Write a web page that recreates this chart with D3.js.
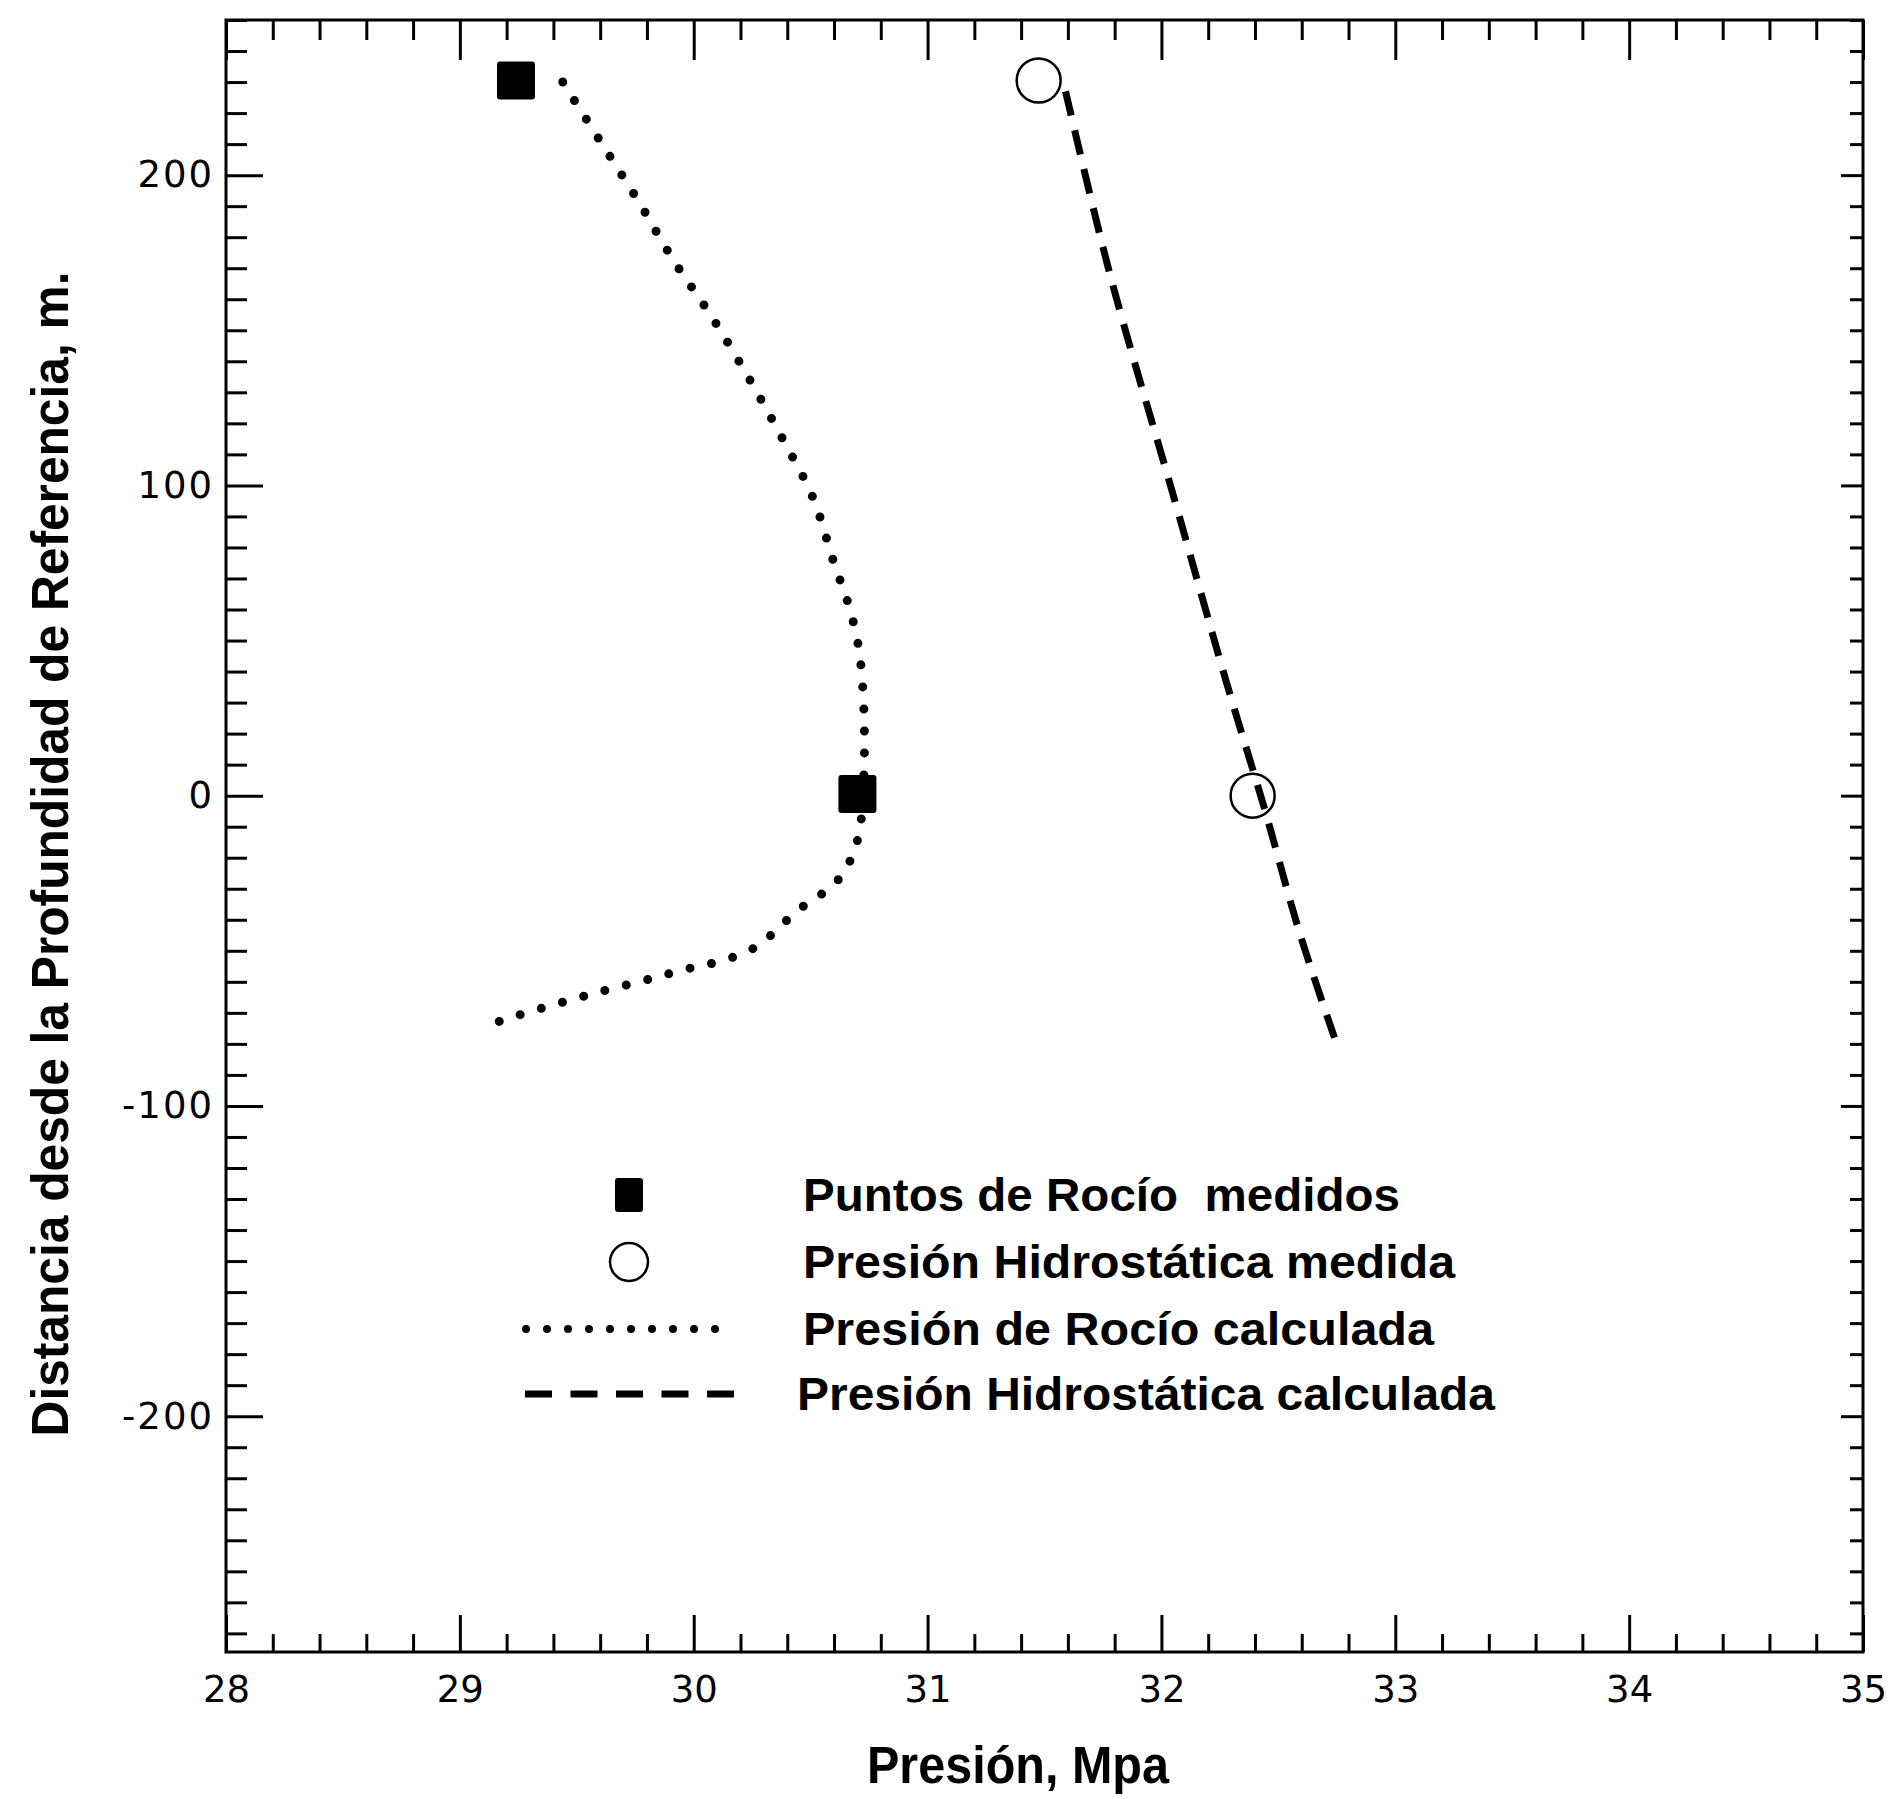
<!DOCTYPE html>
<html><head><meta charset="utf-8">
<script src="https://cdn.jsdelivr.net/npm/d3@7"></script>
<style>
body{margin:0;background:#fff}
svg{display:block}
</style>
</head><body>
<svg id="chart" width="1893" height="1799"></svg>
<script>
// ---------- data ----------
const xTicksMajor = [28, 29, 30, 31, 32, 33, 34, 35];
const xTickLabels = ["28", "29", "30", "31", "32", "33", "34", "35"];
const yTicksMajor = [200, 100, 0, -100, -200];
const yTickLabels = ["200", "100", "0", "-100", "-200"];

// Puntos de Rocío medidos  [presión MPa, distancia m]
const dewMeasured = [[29.24, 230.5], [30.70, 0.5]];
// Presión Hidrostática medida
const hydroMeasured = [[31.475, 230.5], [32.39, 0]];
// Presión de Rocío calculada
const dewCalc = [
  [29.44, 230], [29.60, 211], [29.76, 192], [29.91, 173], [30.08, 154],
  [30.24, 134], [30.38, 115], [30.51, 96], [30.60, 75], [30.66, 62],
  [30.70, 50], [30.72, 38], [30.73, 20], [30.725, 2], [30.71, -11],
  [30.68, -19], [30.63, -26], [30.56, -31], [30.48, -35], [30.40, -40],
  [30.33, -45], [30.26, -49], [30.17, -52], [30.08, -54], [29.99, -55.5],
  [29.89, -57.5], [29.79, -59.5], [29.61, -63], [29.42, -67], [29.24, -71],
  [29.12, -74]
];
// Presión Hidrostática calculada
const hydroCalc = [
  [31.59, 227], [31.78, 168], [32.05, 97], [32.28, 36],
  [32.44, -4], [32.59, -44], [32.74, -78]
];

const legendLabels = [
  "Puntos de Rocío  medidos",
  "Presión Hidrostática medida",
  "Presión de Rocío calculada",
  "Presión Hidrostática calculada"
];
const xTitle = "Presión, Mpa";
const yTitle = "Distancia desde la Profundidad de Referencia, m.";

// ---------- layout ----------
const m = {left: 226, right: 1863, top: 20, bottom: 1652};
const svg = d3.select("#chart");
const x = d3.scaleLinear().domain([28, 35]).range([m.left, m.right]);
const y = d3.scaleLinear().domain([-276, 250]).range([m.bottom, m.top]);

const xMinor = d3.range(28, 35.0001, 0.2).filter(v => Math.abs(v - Math.round(v)) > 1e-6);
const yMinor = d3.range(-270, 251, 10).filter(v => v % 100 !== 0);
const yMajorAll = [-200, -100, 0, 100, 200];

const tickFont = "'DejaVu Sans', sans-serif";
const titleFont = "'Liberation Sans', Arial, sans-serif";

function styleAxis(g) {
  g.select(".domain").remove();
  g.selectAll(".tick line").attr("stroke", "#000").attr("stroke-width", 3);
  g.selectAll(".tick text").attr("fill", "#000").attr("font-family", tickFont).attr("font-size", 37);
}

// bottom axis
svg.append("g").attr("transform", `translate(0,${m.bottom})`)
  .call(d3.axisBottom(x).tickValues(xMinor).tickSize(-18).tickFormat(""))
  .call(styleAxis);
svg.append("g").attr("transform", `translate(0,${m.bottom})`)
  .call(d3.axisBottom(x).tickValues(xTicksMajor).tickSize(-37).tickPadding(24)
    .tickFormat((d, i) => xTickLabels[i]))
  .call(styleAxis);

// top axis
svg.append("g").attr("transform", `translate(0,${m.top})`)
  .call(d3.axisTop(x).tickValues(xMinor).tickSize(-20).tickFormat(""))
  .call(styleAxis);
svg.append("g").attr("transform", `translate(0,${m.top})`)
  .call(d3.axisTop(x).tickValues(xTicksMajor).tickSize(-40).tickFormat(""))
  .call(styleAxis);

// left axis
svg.append("g").attr("transform", `translate(${m.left},0)`)
  .call(d3.axisLeft(y).tickValues(yMinor).tickSize(-21).tickFormat(""))
  .call(styleAxis);
svg.append("g").attr("transform", `translate(${m.left},0)`)
  .call(d3.axisLeft(y).tickValues(yTicksMajor).tickSize(-37).tickPadding(12)
    .tickFormat((d, i) => yTickLabels[i]))
  .call(styleAxis)
  .call(g => g.selectAll(".tick text").attr("letter-spacing", 2));

// right axis
svg.append("g").attr("transform", `translate(${m.right},0)`)
  .call(d3.axisRight(y).tickValues(yMinor).tickSize(-13).tickFormat(""))
  .call(styleAxis);
svg.append("g").attr("transform", `translate(${m.right},0)`)
  .call(d3.axisRight(y).tickValues(yMajorAll).tickSize(-22).tickFormat(""))
  .call(styleAxis);

// frame
svg.append("rect")
  .attr("x", m.left).attr("y", m.top)
  .attr("width", m.right - m.left).attr("height", m.bottom - m.top)
  .attr("fill", "none").attr("stroke", "#000").attr("stroke-width", 3);

// ---------- series ----------
const line = d3.line().x(d => x(d[0])).y(d => y(d[1])).curve(d3.curveCatmullRom.alpha(0.5));

svg.append("path").datum(dewCalc)
  .attr("d", line).attr("fill", "none").attr("stroke", "#000")
  .attr("stroke-width", 9).attr("stroke-linecap", "round")
  .attr("stroke-dasharray", "0 22");

svg.append("path").datum(hydroCalc)
  .attr("d", line).attr("fill", "none").attr("stroke", "#000")
  .attr("stroke-width", 7).attr("stroke-linecap", "butt")
  .attr("stroke-dasharray", "25 15");

const sq = 38;
svg.selectAll("rect.dew").data(dewMeasured).join("rect").attr("class", "dew")
  .attr("x", d => x(d[0]) - sq / 2).attr("y", d => y(d[1]) - sq / 2)
  .attr("width", sq).attr("height", sq).attr("rx", 3).attr("fill", "#000");

svg.selectAll("circle.hyd").data(hydroMeasured).join("circle").attr("class", "hyd")
  .attr("cx", d => x(d[0])).attr("cy", d => y(d[1])).attr("r", 22)
  .attr("fill", "none").attr("stroke", "#000").attr("stroke-width", 2.5);

// ---------- legend ----------
const legRowY = [1195, 1262, 1329, 1394];
const legTextX = 803;
const legTextLen = [597, 652, 631, 698];
const legMarkX = 629;
const lg = svg.append("g");
lg.append("rect").attr("x", legMarkX - 14).attr("y", legRowY[0] - 17)
  .attr("width", 28).attr("height", 34).attr("rx", 3).attr("fill", "#000");
lg.append("circle").attr("cx", legMarkX).attr("cy", legRowY[1]).attr("r", 19)
  .attr("fill", "none").attr("stroke", "#000").attr("stroke-width", 2.5);
lg.append("line").attr("x1", 526).attr("x2", 736).attr("y1", legRowY[2]).attr("y2", legRowY[2])
  .attr("stroke", "#000").attr("stroke-width", 8).attr("stroke-linecap", "round")
  .attr("stroke-dasharray", "0 21");
lg.append("line").attr("x1", 525).attr("x2", 735).attr("y1", legRowY[3]).attr("y2", legRowY[3])
  .attr("stroke", "#000").attr("stroke-width", 7)
  .attr("stroke-dasharray", "27 18.5");
lg.selectAll("text").data(legendLabels).join("text")
  .attr("x", (d, i) => i === 3 ? legTextX - 6 : legTextX)
  .attr("y", (d, i) => legRowY[i] + 16)
  .attr("textLength", (d, i) => legTextLen[i])
  .attr("lengthAdjust", "spacingAndGlyphs")
  .attr("font-family", titleFont).attr("font-weight", "bold").attr("font-size", 46)
  .attr("fill", "#000").attr("xml:space", "preserve")
  .text(d => d);

// ---------- titles ----------
svg.append("text")
  .attr("x", 1018).attr("y", 1783).attr("text-anchor", "middle")
  .attr("textLength", 302).attr("lengthAdjust", "spacingAndGlyphs")
  .attr("font-family", titleFont).attr("font-weight", "bold").attr("font-size", 51)
  .text(xTitle);

svg.append("text")
  .attr("transform", "translate(68,854) rotate(-90)")
  .attr("text-anchor", "middle")
  .attr("textLength", 1165).attr("lengthAdjust", "spacingAndGlyphs")
  .attr("font-family", titleFont).attr("font-weight", "bold").attr("font-size", 52)
  .text(yTitle);
</script>
</body></html>
